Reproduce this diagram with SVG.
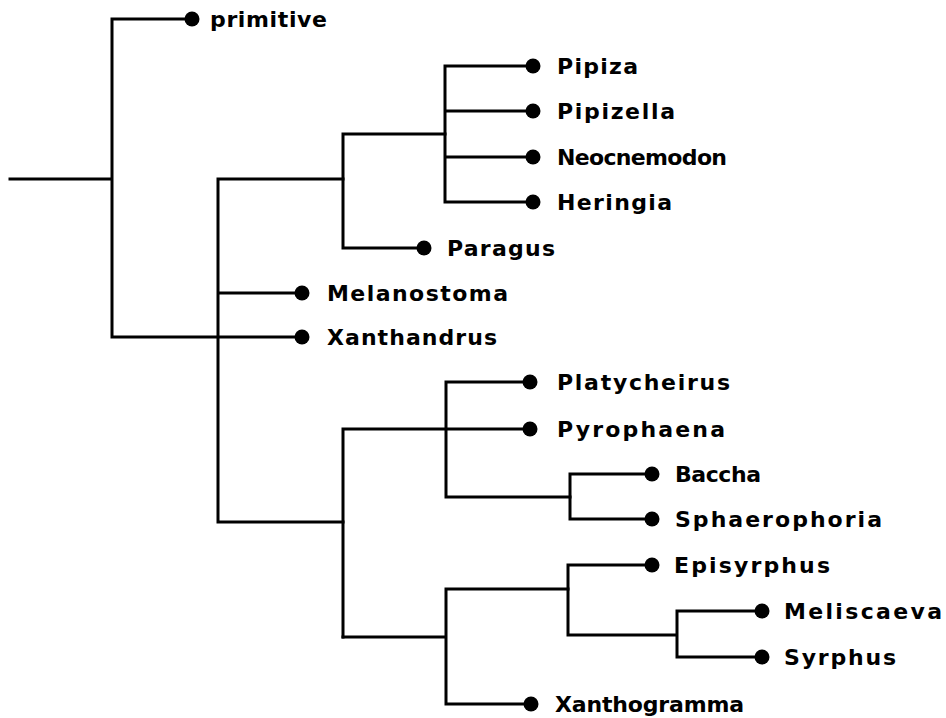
<svg xmlns="http://www.w3.org/2000/svg" width="946" height="718" viewBox="0 0 946 718">
<style>
.e{stroke:#000;stroke-width:3;fill:none;stroke-linecap:square}
.d{fill:#000}
.t{font-family:"DejaVu Sans","Liberation Sans",Arial,sans-serif;font-weight:bold;font-size:22px;fill:#000}
</style>
<rect width="946" height="718" fill="#fff"/>
<g id="connectors">
<path class="e" d="M10,179 H112 M112,19 V337 M112,19 H192 M112,337 H302"/>
<path class="e" d="M218,179 V522 M218,179 H343 M218,293 H302 M218,522 H343"/>
<path class="e" d="M343,134 V248 M343,134 H445 M343,248 H424"/>
<path class="e" d="M445,66 V202 M445,66 H533 M445,111 H533 M445,157 H533 M445,202 H533"/>
<path class="e" d="M343,429 V637 M343,429 H530 M446,382 V497 M446,382 H530 M446,497 H570"/>
<path class="e" d="M570,474 V519 M570,474 H652 M570,519 H652"/>
<path class="e" d="M343,637 H446 M446,589 V704 M446,589 H568 M446,704 H531"/>
<path class="e" d="M568,565 V635 M568,565 H652 M568,635 H677 M677,611 V657 M677,611 H762 M677,657 H762"/>
</g>
<g id="primitive"><circle class="d" cx="192" cy="19" r="7.5"/><text class="t" x="210" y="27" textLength="117" lengthAdjust="spacing">primitive</text></g>
<g id="pipiza"><circle class="d" cx="533" cy="66" r="7.5"/><text class="t" x="557" y="74" textLength="81" lengthAdjust="spacing">Pipiza</text></g>
<g id="pipizella"><circle class="d" cx="533" cy="111" r="7.5"/><text class="t" x="557" y="119" textLength="118" lengthAdjust="spacing">Pipizella</text></g>
<g id="neocnemodon"><circle class="d" cx="533" cy="157" r="7.5"/><text class="t" x="557" y="165" textLength="170" lengthAdjust="spacing">Neocnemodon</text></g>
<g id="heringia"><circle class="d" cx="533" cy="202" r="7.5"/><text class="t" x="557" y="210" textLength="115" lengthAdjust="spacing">Heringia</text></g>
<g id="paragus"><circle class="d" cx="424" cy="248" r="7.5"/><text class="t" x="447" y="256" textLength="108" lengthAdjust="spacing">Paragus</text></g>
<g id="melanostoma"><circle class="d" cx="302" cy="293" r="7.5"/><text class="t" x="327" y="301" textLength="181" lengthAdjust="spacing">Melanostoma</text></g>
<g id="xanthandrus"><circle class="d" cx="302" cy="337" r="7.5"/><text class="t" x="327" y="345" textLength="170" lengthAdjust="spacing">Xanthandrus</text></g>
<g id="platycheirus"><circle class="d" cx="530" cy="382" r="7.5"/><text class="t" x="557" y="390" textLength="173" lengthAdjust="spacing">Platycheirus</text></g>
<g id="pyrophaena"><circle class="d" cx="530" cy="429" r="7.5"/><text class="t" x="557" y="437" textLength="168" lengthAdjust="spacing">Pyrophaena</text></g>
<g id="baccha"><circle class="d" cx="652" cy="474" r="7.5"/><text class="t" x="675" y="482" textLength="86" lengthAdjust="spacing">Baccha</text></g>
<g id="sphaerophoria"><circle class="d" cx="652" cy="519" r="7.5"/><text class="t" x="675" y="527" textLength="207" lengthAdjust="spacing">Sphaerophoria</text></g>
<g id="episyrphus"><circle class="d" cx="652" cy="565" r="7.5"/><text class="t" x="674" y="573" textLength="156" lengthAdjust="spacing">Episyrphus</text></g>
<g id="meliscaeva"><circle class="d" cx="762" cy="611" r="7.5"/><text class="t" x="784" y="619" textLength="158" lengthAdjust="spacing">Meliscaeva</text></g>
<g id="syrphus"><circle class="d" cx="762" cy="657" r="7.5"/><text class="t" x="784" y="665" textLength="112" lengthAdjust="spacing">Syrphus</text></g>
<g id="xanthogramma"><circle class="d" cx="531" cy="704" r="7.5"/><text class="t" x="555" y="712" textLength="189" lengthAdjust="spacing">Xanthogramma</text></g>
</svg>
